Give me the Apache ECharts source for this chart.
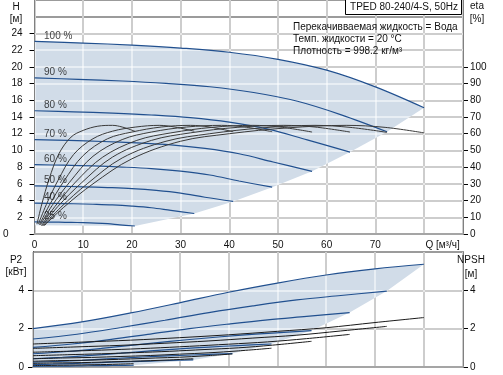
<!DOCTYPE html>
<html><head><meta charset="utf-8">
<script src="https://cdn.jsdelivr.net/npm/echarts@6/dist/echarts.min.js"></script>
<style>html,body{margin:0;padding:0;background:#fff}#c{width:503px;height:375px}</style>
</head><body><div id="c"></div>
<script>
// ---- data ----
const speedLabels = ['100 %','90 %','80 %','70 %','60 %','50 %','40 %','25 %'];
// flow points (m3/h) for H, P2 and NPSH curves, one list per speed
const flowPts = [
 [0,10,20,30,40,50,60,70,80],
 [0,9,18,27,36,45,54,63,72.4],
 [0,8,16,24,32,40,48,56,64.8],
 [0,7,14,21,28,35,42,49,57],
 [0,6,12,18,24,30,36,42,48.8],
 [0,5,10,15,20,25,30,35,40.8],
 [0,4,8,12,16,20,24,28,32.8],
 [0,2.5,5,7.5,10,12.5,15,17.5,20.6]
];
const headVals = [
 [23.05,22.85,22.6,22.25,21.75,20.9,19.6,17.6,15.1],
 [18.67,18.51,18.31,18.02,17.62,16.93,15.88,14.26,12.23],
 [14.75,14.62,14.46,14.24,13.92,13.38,12.54,11.26,9.8],
 [11.29,11.2,11.07,10.9,10.66,10.24,9.6,8.62,7.5],
 [8.3,8.23,8.14,8.01,7.83,7.52,7.06,6.34,5.6],
 [5.76,5.71,5.65,5.56,5.44,5.23,4.9,4.4,3.9],
 [3.69,3.66,3.62,3.56,3.48,3.34,3.14,2.82,2.45],
 [1.44,1.43,1.41,1.39,1.36,1.31,1.23,1.1,0.96]
];
const powerVals = [
 [2.0,2.35,2.82,3.35,3.9,4.38,4.8,5.12,5.36],
 [1.46,1.71,2.06,2.44,2.84,3.19,3.5,3.73,3.96],
 [1.02,1.2,1.44,1.72,2.0,2.24,2.46,2.64,2.84],
 [0.69,0.81,0.97,1.15,1.34,1.5,1.65,1.77,1.9],
 [0.43,0.51,0.61,0.72,0.84,0.95,1.04,1.12,1.2],
 [0.25,0.29,0.35,0.42,0.49,0.55,0.6,0.65,0.7],
 [0.13,0.15,0.18,0.21,0.25,0.28,0.31,0.34,0.37],
 [0.03,0.04,0.04,0.05,0.06,0.07,0.075,0.08,0.09]
];
const npshVals = [
 [1.2,1.3,1.4,1.53,1.68,1.86,2.05,2.32,2.58],
 [0.97,1.05,1.13,1.24,1.36,1.51,1.66,1.88,2.12],
 [0.77,0.83,0.9,0.98,1.08,1.19,1.31,1.48,1.7],
 [0.59,0.64,0.69,0.75,0.82,0.91,1.0,1.14,1.34],
 [0.43,0.47,0.5,0.55,0.6,0.67,0.74,0.84,0.98],
 [0.3,0.33,0.35,0.38,0.42,0.47,0.51,0.58,0.68],
 [0.19,0.21,0.22,0.24,0.27,0.3,0.33,0.37,0.43],
 [0.08,0.08,0.09,0.1,0.11,0.12,0.13,0.15,0.17]
];
// efficiency curves (eta %, right axis)
const etaFlowPts = [
 [2,6,12,20,30,40,52,64,72,80],
 [1.8,5.4,10.8,18,27,36,46.8,57.6,64.8,72.4],
 [1.6,4.8,9.6,16,24,32,41.6,51.2,57.6,64.8],
 [1.4,4.2,8.4,14,21,28,36.4,44.8,50.4,57],
 [1.2,3.6,7.2,12,18,24,31.2,38.4,43.2,48.8],
 [1,3,6,10,15,20,26,32,36,40.8],
 [0.8,2.4,4.8,8,12,16,20.8,25.6,28.8,32.8],
 [0.5,1.5,3,5,7.5,10,13,16,18,20.6]
];
const etaVals = [
 [5,16,30,45,55.5,60,63.5,65,63.8,60.5],
 [5,16,30,45.5,55.5,60,63.5,65,63.8,60.8],
 [5,16.5,30.5,46,56,60.5,63.8,65,64,61],
 [5,16.5,31,46,56,60.5,63.8,65,64,61],
 [5.5,17,31,46.5,56.5,61,64,65,64,61.2],
 [5.5,17,31.5,47,57,61,64,65,64,61.2],
 [6,17.5,32,47.5,57,61.5,64,65,64,61.5],
 [6,18,33,48,58,62,64.5,65,64,61.5]
];
const headFloor = [[20.6,0.96],[0,1.05]];
const powerFloor = [[20.6,0],[0,0]];
const xTicks = [0,10,20,30,40,50,60,70,80];
const hTicks = [0,2,4,6,8,10,12,14,16,18,20,22,24];
const etaTicks = [0,10,20,30,40,50,60,70,80,90,100];
const pTicks = [0,2,4];

// ---- styles ----
const FONT = "'Liberation Sans', Arial, sans-serif";
const TXT = '#111';
const NAVY = '#21508f';
const SHADE = '#d1dce8';
const GRID_BASE = '#9b9b9b';
const GRID_OVER = 'rgba(255,255,255,0.5)';

const zip = (a,b) => a.map((v,i)=>[v,b[i]]);
const topPoly = zip(flowPts[0], headVals[0])
  .concat(flowPts.slice(1).map((f,i)=>[f[f.length-1], headVals[i+1][f.length-1]]))
  .concat(headFloor);
const botPoly = zip(flowPts[0], powerVals[0])
  .concat(flowPts.slice(1).map((f,i)=>[f[f.length-1], powerVals[i+1][f.length-1]]))
  .concat(powerFloor);

function polySeries(poly, xi, yi){
  return {type:'custom', xAxisIndex:xi, yAxisIndex:yi, z:1, silent:true, data:[[0,0]],
    renderItem:(p, api)=>({type:'polygon', shape:{points: poly.map(pt=>api.coord(pt))},
      style:{fill:SHADE}})};
}
function lineS(data, xi, yi, color, w){
  return {type:'line', xAxisIndex:xi, yAxisIndex:yi, data, smooth:0.35, showSymbol:false,
    silent:true, z:3, lineStyle:{color, width:w}};
}

const series = [polySeries(topPoly,0,0), polySeries(botPoly,2,3)];
flowPts.forEach((f,i)=>series.push(lineS(zip(f,headVals[i]),0,0,NAVY,1.2)));
etaFlowPts.forEach((f,i)=>series.push(lineS(zip(f,etaVals[i]),0,2,'#3a3a3a',1)));
flowPts.forEach((f,i)=>series.push(lineS(zip(f,powerVals[i]),2,3,NAVY,1.2)));
flowPts.forEach((f,i)=>series.push(lineS(zip(f,npshVals[i]),2,5,'#1a1a1a',1)));
series.push({type:'scatter', xAxisIndex:0, yAxisIndex:0, z:4, silent:true, symbolSize:1,
  itemStyle:{color:'transparent'},
  data: flowPts.map((f,i)=>[f[0], headVals[i][0]]),
  label:{show:true, position:'right', distance:0, offset:[9,-5.5], color:TXT,
    fontSize:10, fontFamily:FONT, formatter:p=>speedLabels[p.dataIndex]}});

const labelBase = {fontSize:10, fontFamily:FONT, color:TXT};
function baseX(gi){ return {type:'value', gridIndex:gi, position:'bottom', min:0, max:88, interval:10, z:0,
  axisLine:{show:false}, axisTick:{show:false}, axisLabel:{show:false},
  splitLine:{show:true, lineStyle:{color:GRID_BASE, width:2}}}; }
function overX(gi, labels){ return {type:'value', gridIndex:gi, position:'bottom', min:0, max:88, interval:10, z:1.6,
  axisLine:{show:true, onZero:false, lineStyle:{color:'#a5a5a5', width:2}}, axisTick:{show:false},
  axisLabel: labels ? Object.assign({show:true, customValues:xTicks, margin:6,
     formatter:v=> v===80 ? '{q|Q [м³/ч]}' : String(v),
     rich:{q:Object.assign({padding:[0,0,0,37]}, labelBase)}}, labelBase) : {show:false},
  splitLine:{show:true, lineStyle:{color:GRID_OVER, width:2}}}; }
function baseY(gi, max){ return {type:'value', gridIndex:gi, min:0, max, interval:2, z:0, position:'left',
  axisLine:{show:false}, axisTick:{show:false}, axisLabel:{show:false},
  splitLine:{show:true, lineStyle:{color:GRID_BASE, width:2}}}; }
function overY(gi, max, ticks, margin, shiftZero){ return {type:'value', gridIndex:gi, min:0, max, interval:2, z:1.5, position:'left',
  axisLine:{show:true, onZero:false, lineStyle:{color:'#000', width:1}},
  axisTick:{show:true, customValues:ticks, length:5, lineStyle:{color:'#000'}},
  axisLabel:Object.assign({show:true, customValues:ticks, margin,
     formatter:v=> (shiftZero && v===0) ? '{z|0}' : String(v),
     rich:{z:Object.assign({padding:[0,14,0,0]}, labelBase)}}, labelBase),
  splitLine:{show:true, lineStyle:{color:GRID_OVER, width:2}}}; }
function rightY(gi, max, interval, ticks){ return {type:'value', gridIndex:gi, min:0, max, interval, z:1.5, position:'right',
  axisLine:{show:true, onZero:false, lineStyle:{color:'#000', width:1}},
  axisTick:{show:true, customValues:ticks, length:5, lineStyle:{color:'#000'}},
  axisLabel:Object.assign({show:true, customValues:ticks, margin:7}, labelBase),
  splitLine:{show:false}}; }

const tstyle = (t,x,y,align) => ({type:'text', x, y, z:10,
  style:{text:t, fill:TXT, font:'10px '+FONT, textAlign:align||'center', textVerticalAlign:'middle'}});

const option = {
  animation:false,
  grid:[{left:33, right:40, top:0, height:234},{left:33, right:40, top:252, height:115}],
  xAxis:[baseX(0), overX(0,true), baseX(1), overX(1,false)],
  yAxis:[baseY(0,28), overY(0,28,hTicks,12,true), rightY(0,140,10,etaTicks),
         baseY(1,6), overY(1,6,pTicks,9,false), rightY(1,6,2,pTicks)],
  series,
  graphic:[
    {type:'rect', x:345.5, y:-1, z:10, shape:{width:116, height:15.5},
     style:{fill:'#fff', stroke:'#000', lineWidth:1}},
    tstyle('TPED 80-240/4-S, 50Hz', 404, 7),
    tstyle('Перекачивваемая жидкость = Вода', 293, 27, 'left'),
    tstyle('Темп. жидкости = 20 °C', 293, 39, 'left'),
    tstyle('Плотность = 998.2 кг/м³', 293, 51, 'left'),
    tstyle('H', 16, 7), tstyle('[м]', 16, 19),
    tstyle('eta', 477, 6), tstyle('[%]', 477, 19),
    tstyle('P2', 16, 260), tstyle('[кВт]', 16, 272),
    tstyle('NPSH', 471, 260), tstyle('[м]', 471, 274)
  ]
};
echarts.init(document.getElementById('c'), null, {renderer:'canvas'}).setOption(option);
</script></body></html>
